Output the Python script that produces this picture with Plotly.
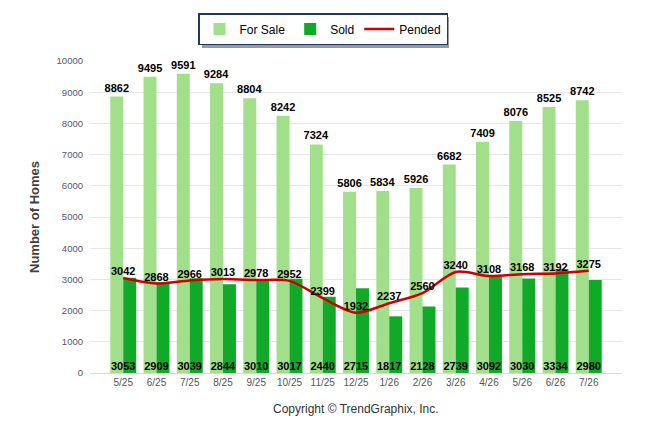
import plotly.graph_objects as go

months = ["5/25", "6/25", "7/25", "8/25", "9/25", "10/25", "11/25", "12/25",
          "1/26", "2/26", "3/26", "4/26", "5/26", "6/26", "7/26"]
for_sale = [8862, 9495, 9591, 9284, 8804, 8242, 7324, 5806, 5834, 5926, 6682, 7409, 8076, 8525, 8742]
sold = [3053, 2909, 3039, 2844, 3010, 3017, 2440, 2715, 1817, 2128, 2739, 3092, 3030, 3334, 2980]
pended = [3042, 2868, 2966, 3013, 2978, 2952, 2399, 1932, 2237, 2560, 3240, 3108, 3168, 3192, 3275]
y_ticks = [0, 1000, 2000, 3000, 4000, 5000, 6000, 7000, 8000, 9000, 10000]

x = list(range(len(months)))
FONT = "Liberation Sans"
label_font = dict(family=FONT, size=11, color="#000000", weight="bold")

fig = go.Figure()
fig.add_trace(go.Bar(
    x=x, y=for_sale, name="For Sale", marker=dict(color="#a2df8b", line=dict(width=0)),
    text=[str(v) for v in for_sale], textposition="outside", constraintext="none",
    textfont=label_font, cliponaxis=False,
))
fig.add_trace(go.Bar(
    x=x, y=sold, name="Sold", marker=dict(color="#10aa28", line=dict(width=0)),
))
fig.add_trace(go.Scatter(
    x=x, y=pended, name="Pended", mode="lines+text",
    line=dict(color="#cc0000", width=2.5, shape="spline", smoothing=0.8),
    text=[str(v) for v in pended], textposition="top center", textfont=label_font,
    cliponaxis=False,
))
fig.add_trace(go.Scatter(
    x=x, y=[0] * len(sold), mode="text", showlegend=False,
    text=[str(v) for v in sold], textposition="top center", textfont=label_font,
    cliponaxis=False, hoverinfo="skip",
))

L, R, T, B = 90, 24, 61, 61
W, H = 646, 434
pw, ph = W - L - R, H - T - B

def px_to_paper(px, py):
    return (px - L) / pw, (H - B - py) / ph

x0, y0 = px_to_paper(202, 17)
x1, y1 = px_to_paper(449, 48)
fig.add_shape(type="rect", xref="paper", yref="paper", x0=x0, y0=y1, x1=x1, y1=y0,
              fillcolor="#9a9a9a", line=dict(width=0), layer="above")

fig.update_layout(
    width=W, height=H,
    margin=dict(l=L, r=R, t=T, b=B, autoexpand=False),
    paper_bgcolor="white", plot_bgcolor="white",
    barmode="group", bargap=0.22, bargroupgap=0.0,
    font=dict(family=FONT, size=10, color="#555555"),
    legend=dict(
        orientation="h", xref="container", yref="container",
        x=0.5, xanchor="center", y=1 - 13 / H, yanchor="top",
        bgcolor="white", bordercolor="#1f3864", borderwidth=1.5,
        font=dict(family=FONT, size=12, color="#000000"),
        itemwidth=30, traceorder="normal",
    ),
    xaxis=dict(
        tickmode="array", tickvals=x, ticktext=months, range=[-1, 15],
        showgrid=False, showline=True, linecolor="#d8d8d8", linewidth=1,
        tickfont=dict(family=FONT, size=10, color="#555555"), ticks="",
        zeroline=False,
    ),
    yaxis=dict(
        range=[0, 10000], tickmode="array", tickvals=y_ticks,
        ticktext=[str(v) for v in y_ticks],
        showgrid=True, gridcolor="#e6e6e6",
        gridwidth=1, zeroline=False, showline=False, ticks="",
        ticklabelstandoff=6,
        tickfont=dict(family=FONT, size=9.5, color="#555570"),
        title=dict(text="Number of Homes", standoff=14,
                   font=dict(family=FONT, size=13, color="#404040", weight="bold")),
    ),
    annotations=[dict(
        text="Copyright © TrendGraphix, Inc.", xref="paper", yref="paper",
        x=0.5, y=-(36 / ph), xanchor="center", yanchor="middle",
        showarrow=False, font=dict(family=FONT, size=12, color="#333333"),
    )],
)

fig.write_html("out.html", config={"displayModeBar": False},
               post_script="document.body.style.margin='0';")
